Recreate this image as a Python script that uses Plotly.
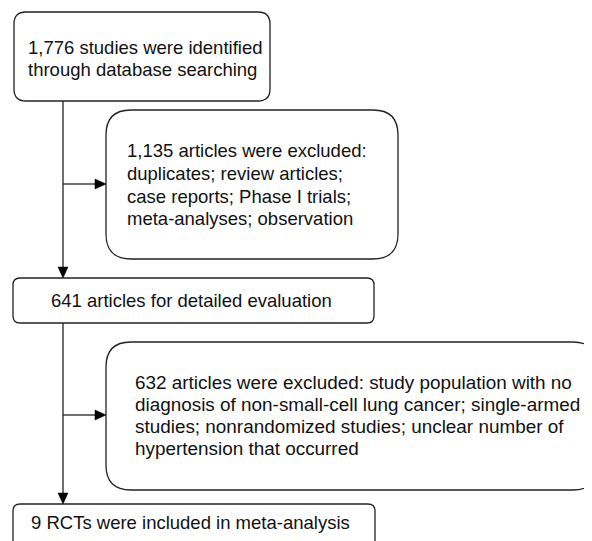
import plotly.graph_objects as go

# ---- content ----
box1_lines = ["1,776 studies were identified", "through database searching"]
box2_lines = ["1,135 articles were excluded:", "duplicates; review articles;",
              "case reports; Phase I trials;", "meta-analyses; observation"]
box3_lines = ["641 articles for detailed evaluation"]
box4_lines = ["632 articles were excluded: study population with no",
              "diagnosis of non-small-cell lung cancer; single-armed",
              "studies; nonrandomized studies; unclear number of",
              "hypertension that occurred"]
box5_lines = ["9 RCTs were included in meta-analysis"]

# ---- layout geometry (pixels in the window) ----
boxes = [
    dict(x0=14, y0=12, x1=270, y1=101, r=12),
    dict(x0=106, y0=110, x1=398, y1=259, r=25),
    dict(x0=13, y0=278, x1=374, y1=323, r=7),
    dict(x0=106, y0=342, x1=598, y1=490, r=25),
    dict(x0=13, y0=504, x1=375, y1=552, r=7),
]
text_blocks = [
    (box1_lines, 26, [47, 69], 18.5),
    (box2_lines, 125, [150, 173, 196, 218], 18.5),
    (box3_lines, 48.5, [300], 18.5),
    (box4_lines, 133, [382, 404, 426, 448], 18.9),
    (box5_lines, 28.5, [522], 18.5),
]

W, H = 592, 541
OFF = 8  # default page body margin
LINE = "#222222"
FAMILY = "Liberation Sans, Arial, sans-serif"


def rrect(b):
    x0, y0, x1, y1, r = b["x0"], b["y0"], b["x1"], b["y1"], b["r"]
    return (f"M{x0+r},{y0} L{x1-r},{y0} Q{x1},{y0} {x1},{y0+r} "
            f"L{x1},{y1-r} Q{x1},{y1} {x1-r},{y1} L{x0+r},{y1} "
            f"Q{x0},{y1} {x0},{y1-r} L{x0},{y0+r} Q{x0},{y0} {x0+r},{y0} Z")


shapes = []
for b in boxes:
    shapes.append(dict(type="path", path=rrect(b), xref="x", yref="y",
                       line=dict(color=LINE, width=1.3), fillcolor="white"))

AL, AW = 11, 5  # arrowhead length, half-width


def arrow(x0, y0, x1, y1):
    out = []
    if x0 == x1:  # vertical down
        out.append(dict(type="line", x0=x0, y0=y0, x1=x1, y1=y1 - AL, xref="x", yref="y",
                        line=dict(color=LINE, width=1.3)))
        out.append(dict(type="path", xref="x", yref="y",
                        path=f"M{x1-AW},{y1-AL} L{x1+AW},{y1-AL} L{x1},{y1} Z",
                        fillcolor="black", line=dict(color="black", width=0.5)))
    else:  # horizontal right
        out.append(dict(type="line", x0=x0, y0=y0, x1=x1 - AL, y1=y1, xref="x", yref="y",
                        line=dict(color=LINE, width=1.3)))
        out.append(dict(type="path", xref="x", yref="y",
                        path=f"M{x1-AL},{y1-AW} L{x1-AL},{y1+AW} L{x1},{y1} Z",
                        fillcolor="black", line=dict(color="black", width=0.5)))
    return out


shapes += arrow(63, 101, 63, 278)
shapes += arrow(63, 323, 63, 504)
shapes += arrow(63, 184, 106, 184)
shapes += arrow(63, 415, 106, 415)

annotations = []
for lines, x, ys, size in text_blocks:
    for t, y in zip(lines, ys):
        annotations.append(dict(text=t, x=x, y=y, xref="x", yref="y",
                                xanchor="left", yanchor="middle", showarrow=False,
                                font=dict(family=FAMILY, size=size, color="#111111")))

fig = go.Figure()
fig.update_layout(
    width=W - OFF, height=H - OFF, margin=dict(l=0, r=0, t=0, b=0),
    paper_bgcolor="white", plot_bgcolor="white",
    xaxis=dict(range=[OFF, W], visible=False, fixedrange=True),
    yaxis=dict(range=[H, OFF], visible=False, fixedrange=True),
    shapes=shapes, annotations=annotations, showlegend=False,
)
fig.write_html("out.html", config=dict(displayModeBar=False))
